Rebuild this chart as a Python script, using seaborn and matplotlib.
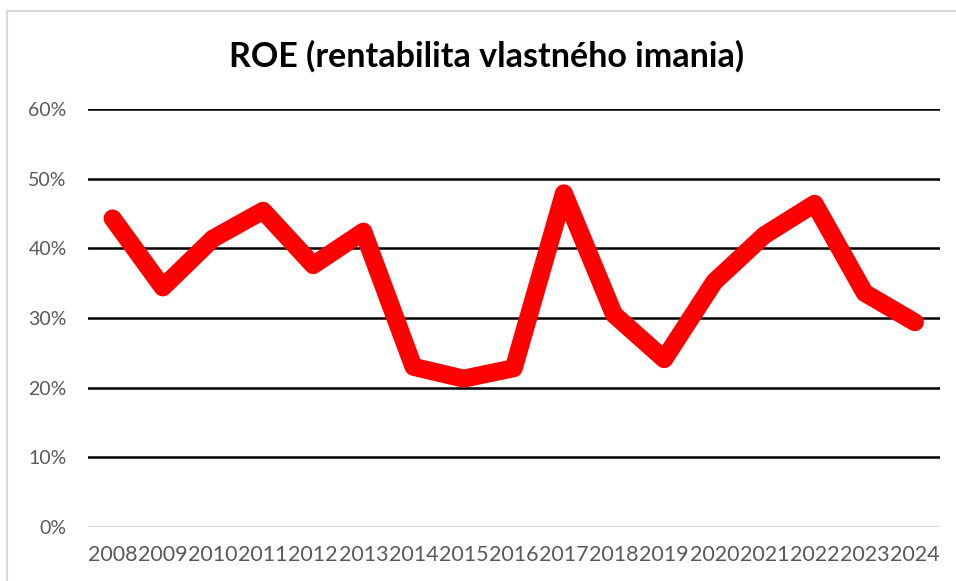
import matplotlib
matplotlib.use("Agg")
import matplotlib.pyplot as plt
from matplotlib.patches import Rectangle
from matplotlib.ticker import PercentFormatter, MultipleLocator
import seaborn as sns
import pandas as pd

# Return on equity by year
years = ["2008", "2009", "2010", "2011", "2012", "2013", "2014", "2015", "2016",
         "2017", "2018", "2019", "2020", "2021", "2022", "2023", "2024"]
roe = [0.443, 0.344, 0.414, 0.454, 0.376, 0.424, 0.230, 0.213, 0.228,
       0.479, 0.305, 0.241, 0.352, 0.419, 0.464, 0.336, 0.294]

title = "ROE (rentabilita vlastného imania)"

sns.set_theme(style="white")
plt.rcParams["font.family"] = ["Lato", "DejaVu Sans"]

df = pd.DataFrame({"rok": years, "ROE": roe})

fig = plt.figure(figsize=(9.56, 5.81), dpi=100)
ax = fig.add_axes([0.0916, 0.0929, 0.8916, 0.7194])

sns.lineplot(data=df, x="rok", y="ROE", sort=False, color="#ff0000",
             linewidth=13, solid_joinstyle="round", solid_capstyle="round",
             ax=ax, zorder=3)

ax.set_xlim(-0.5, len(years) - 0.5)
ax.set_ylim(0, 0.6)
ax.yaxis.set_major_locator(MultipleLocator(0.1))
ax.yaxis.set_major_formatter(PercentFormatter(1.0, decimals=0))

# horizontal gridlines: black, baseline in light grey
for v in [0.1, 0.2, 0.3, 0.4, 0.5, 0.6]:
    ax.axhline(v, color="black", linewidth=1.8, zorder=1)
ax.axhline(0, color="#d9d9d9", linewidth=1.6, zorder=1)

for s in ax.spines.values():
    s.set_visible(False)
ax.set_xlabel("")
ax.set_ylabel("")
ax.tick_params(axis="both", length=0, labelcolor="#595959")
ax.tick_params(axis="y", pad=15, labelsize=14)
ax.tick_params(axis="x", pad=13, labelsize=15.5)

fig.text(0.509, 1 - 67 / 581, title, ha="center", va="baseline",
         fontsize=24.5, fontweight="bold", color="black")

# light grey chart border
fig.add_artist(Rectangle((7 / 956, -0.1), 1.2, 1.1 - 11 / 581,
                         transform=fig.transFigure, fill=False,
                         edgecolor="#d9d9d9", linewidth=1.5, clip_on=False))

fig.savefig("out.png", dpi=100)
